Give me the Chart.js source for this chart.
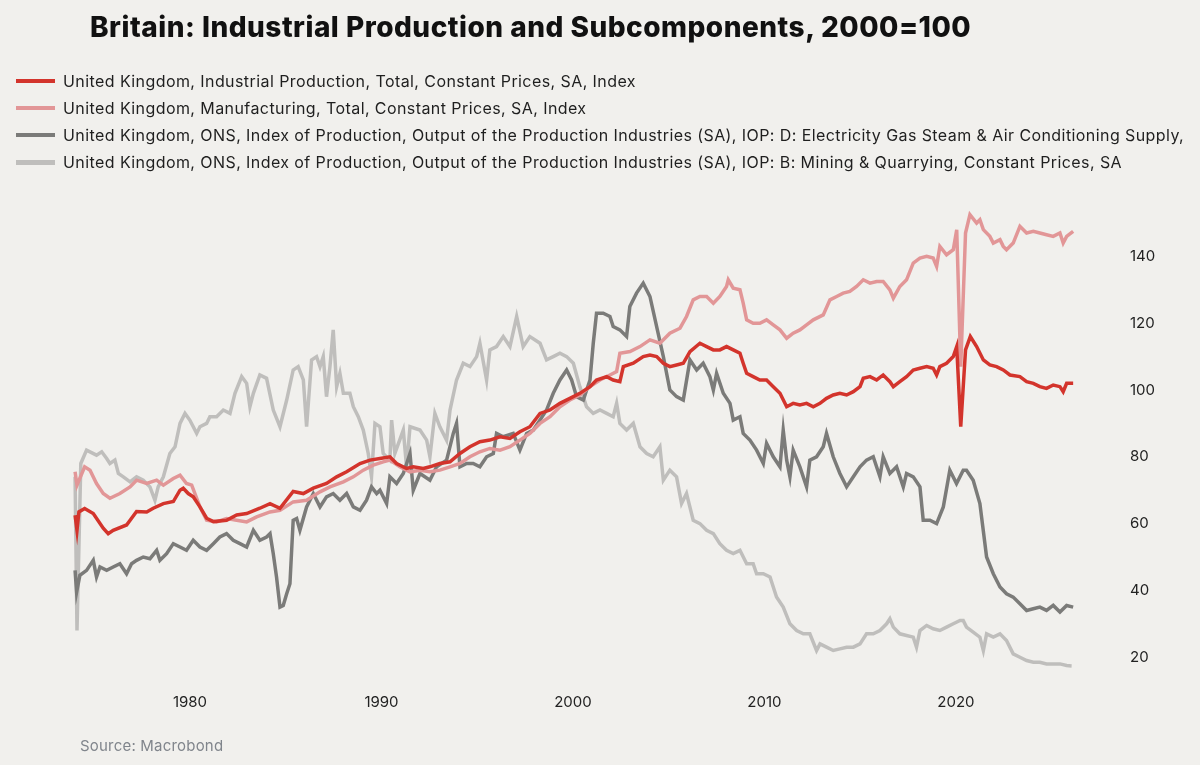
<!DOCTYPE html>
<html>
<head>
<meta charset="utf-8">
<script src="https://cdn.jsdelivr.net/npm/chart.js@4.4.1/dist/chart.umd.min.js"></script>
<style>
  html, body { margin: 0; padding: 0; background: #f1f0ed; }
  body { width: 1200px; height: 765px; position: relative; overflow: hidden; font-family: Inter, "Noto Sans", sans-serif; color: #1f1f1f; }
  #chart { position: absolute; left: 0; top: 0; }
  h1 { position: absolute; left: 90px; top: 13px; margin: 0; font-size: 28px; line-height: 28px; font-weight: 800; letter-spacing: 0.5px; color: #111; white-space: nowrap; }
  #legend { position: absolute; left: 16px; top: 67.5px; }
  .row { display: flex; align-items: center; height: 27.1px; font-size: 16px; letter-spacing: 0.42px; white-space: nowrap; }
  .sw { width: 39px; height: 4.5px; margin-right: 8px; }
  #source { position: absolute; left: 80px; top: 735.5px; font-size: 15px; letter-spacing: 0.2px; color: #80858c; }
</style>
</head>
<body>
<canvas id="chart" width="1200" height="765"></canvas>
<h1>Britain: Industrial Production and Subcomponents, 2000=100</h1>
<div id="legend"></div>
<div id="source">Source: Macrobond</div>
<script>
// series: [year, index value]
const totalIP = [
  [1974.0,62.5],[1974.1,58],[1974.2,63.5],[1974.5,64.5],[1974.95,63],[1975.47,58.6],[1975.73,57],[1975.99,58],[1976.69,59.6],[1977.21,63.6],[1977.74,63.5],[1978.08,64.6],[1978.61,66],[1979.13,66.6],[1979.48,70],[1979.65,70.6],[1979.91,69],[1980.17,68],[1980.52,65],[1980.87,61.6],[1981.22,60.6],[1981.91,61],[1982.44,62.6],[1982.96,63],[1983.65,64.6],[1984.18,66],[1984.7,64.6],[1985.39,69.6],[1985.92,69],[1986.44,70.6],[1987.13,72],[1987.66,74],[1988.18,75.5],[1988.88,78],[1989.4,79],[1989.92,79.5],
  [1990.44,80],[1990.79,78],[1991.31,76.5],[1991.66,77],[1992.18,76.5],[1992.53,77],[1993.05,78],[1993.58,78.5],[1994.1,81],[1994.62,83],[1995.14,84.5],[1995.66,85],[1996.19,86],[1996.71,85.5],[1997.23,87.5],[1997.75,89],[1998.28,93],[1998.8,94],[1999.32,96],[1999.84,97.5],[2000.36,99],[2000.89,101],[2001.23,103],[2001.76,104],[2002.1,103],[2002.45,102.5],[2002.63,107],[2003.15,108],[2003.67,110],[2004.02,110.5],[2004.37,110],[2004.72,108],[2005.06,107],[2005.41,107.5],[2005.76,108],[2006.11,111.5],[2006.63,114],[2006.98,113],[2007.33,112],[2007.67,112],[2008.02,113],[2008.37,112],[2008.72,111],[2008.89,108],[2009.07,105],[2009.41,104],[2009.76,103],
  [2010.11,103],[2010.46,101],[2010.81,99],[2011.16,95],[2011.5,96],[2011.85,95.5],[2012.2,96],[2012.55,95],[2012.9,96],[2013.24,97.5],[2013.59,98.5],[2013.94,99],[2014.29,98.5],[2014.64,99.5],[2014.99,101],[2015.16,103.5],[2015.51,104],[2015.86,103],[2016.2,104.5],[2016.55,102.5],[2016.73,101],[2017.07,102.5],[2017.42,104],[2017.77,106],[2018.12,106.5],[2018.47,107],[2018.81,106.5],[2018.99,104.5],[2019.16,107],[2019.51,108],[2019.86,110],[2020.04,113],[2020.25,89],[2020.5,112],[2020.75,116],[2021.08,113],[2021.43,109],[2021.77,107.5],[2022.12,107],[2022.47,106],[2022.82,104.5],[2023.34,104],[2023.69,102.5],[2024.04,102],[2024.38,101],[2024.73,100.5],[2025.08,101.5],[2025.43,101],[2025.6,99.5],[2025.78,102],[2026.12,102]
];
const manufacturing = [
  [1974.0,75.5],[1974.1,71.5],[1974.5,77],[1974.78,76],[1975.12,72],[1975.47,69],[1975.82,67.6],[1976.34,69],[1976.87,71],[1977.21,73],[1977.74,72],[1978.26,73],[1978.61,71.5],[1979.13,73.5],[1979.48,74.5],[1979.82,72],[1980.09,71.5],[1980.52,65],[1980.87,61],[1981.39,60.5],[1981.91,61.5],[1982.44,61],[1982.96,60.5],[1983.48,62],[1984.18,63.5],[1984.7,64],[1985.39,66.5],[1986.09,67],[1986.79,69.5],[1987.31,71],[1988.01,72.5],[1988.53,74],[1989.05,76],[1989.57,77.5],[1990.09,78.5],
  [1990.44,79],[1990.96,77],[1991.49,75.5],[1992.01,76],[1992.53,75.5],[1993.05,76],[1993.58,77],[1994.1,78],[1994.62,80],[1995.14,81.5],[1995.66,82.5],[1996.19,82],[1996.71,83],[1997.23,85],[1997.75,87],[1998.28,90],[1998.8,92],[1999.32,95],[1999.84,97],[2000.36,98.5],[2000.89,101],[2001.41,103],[2001.93,104.5],[2002.28,105.5],[2002.45,111],[2002.98,111.5],[2003.5,113],[2004.02,115],[2004.54,114],[2005.06,117],[2005.59,118.5],[2005.93,122],[2006.28,127],[2006.63,128],[2006.98,128],[2007.33,126],[2007.67,128],[2008.02,131],[2008.11,133],[2008.37,130.5],[2008.72,130],[2008.89,126],[2009.07,121],[2009.41,120],[2009.76,120],
  [2010.11,121],[2010.46,119.5],[2010.81,118],[2011.16,115.5],[2011.5,117],[2011.85,118],[2012.2,119.5],[2012.55,121],[2013.07,122.5],[2013.42,127],[2013.77,128],[2014.11,129],[2014.46,129.5],[2014.81,131],[2015.16,133],[2015.51,132],[2015.86,132.5],[2016.2,132.5],[2016.55,130],[2016.73,127.5],[2017.07,131],[2017.42,133],[2017.77,138],[2018.12,139.5],[2018.47,140],[2018.81,139.5],[2018.99,137],[2019.16,143],[2019.51,140.5],[2019.86,142],[2020.04,148],[2020.25,107],[2020.5,147],[2020.73,152.5],[2021.08,150],[2021.25,151],[2021.43,148],[2021.77,146],[2021.95,144],[2022.3,145],[2022.47,143],[2022.64,142],[2022.99,144],[2023.34,149],[2023.69,147],[2024.04,147.5],[2024.38,147],[2024.73,146.5],[2025.08,146],[2025.43,147],[2025.6,144],[2025.78,146],[2026.12,147.5]
];
const electricity = [
  [1974.0,46],[1974.08,39.5],[1974.25,44.5],[1974.6,46],[1974.95,49],[1975.12,44],[1975.3,47],[1975.65,46],[1975.99,47],[1976.34,48],[1976.69,45],[1976.95,48],[1977.21,49],[1977.56,50],[1977.91,49.5],[1978.26,52],[1978.43,49],[1978.78,51],[1979.13,54],[1979.48,53],[1979.82,52],[1980.17,55],[1980.52,53],[1980.87,52],[1981.22,54],[1981.56,56],[1981.91,57],[1982.26,55],[1982.61,54],[1982.96,53],[1983.31,58],[1983.65,55],[1984.0,56],[1984.18,57],[1984.35,51],[1984.52,44],[1984.7,35],[1984.87,35.5],[1985.05,39],[1985.22,42],[1985.39,61],[1985.57,61.5],[1985.74,58],[1986.09,65],[1986.44,69],[1986.79,65],[1987.13,68],[1987.48,69],[1987.83,67],[1988.18,69],[1988.53,65],[1988.88,64],[1989.22,67],[1989.48,71],[1989.75,69],[1989.92,70],
  [1990.27,66],[1990.44,74],[1990.79,72],[1991.14,75],[1991.49,81],[1991.66,70],[1992.01,75],[1992.53,73],[1992.88,77],[1993.4,79],[1993.75,87],[1993.92,90],[1994.1,77],[1994.45,78],[1994.79,78],[1995.14,77],[1995.49,80],[1995.84,81],[1996.01,87],[1996.36,86],[1996.88,87],[1997.23,82],[1997.58,87],[1997.93,88],[1998.28,91],[1998.62,94],[1998.97,99],[1999.32,103],[1999.67,106],[1999.93,103],[2000.19,98],[2000.54,97],[2000.89,103],[2001.06,114],[2001.23,123],[2001.58,123],[2001.93,122],[2002.1,119],[2002.45,118],[2002.8,116],[2002.97,125],[2003.32,129],[2003.67,132],[2004.02,128],[2004.37,119],[2004.72,110],[2005.06,100],[2005.41,98],[2005.76,97],[2006.11,109],[2006.46,106],[2006.8,108],[2007.15,104],[2007.33,100],[2007.5,105],[2007.85,99],[2008.2,96],[2008.37,91],[2008.72,92],[2008.89,87],[2009.24,85],[2009.59,82],[2009.94,78],
  [2010.11,84],[2010.46,80],[2010.81,77],[2010.98,88],[2011.16,79],[2011.33,74],[2011.5,82],[2011.85,77],[2012.2,71],[2012.37,79],[2012.72,80],[2013.07,83],[2013.24,87],[2013.59,80],[2013.94,75],[2014.29,71],[2014.64,74],[2014.99,77],[2015.33,79],[2015.68,80],[2016.03,74],[2016.2,80],[2016.55,75],[2016.9,77],[2017.25,71],[2017.42,75],[2017.77,74],[2018.12,71],[2018.29,61],[2018.64,61],[2018.99,60],[2019.34,65],[2019.68,76],[2020.03,72],[2020.38,76],[2020.55,76],[2020.9,73],[2021.25,66],[2021.6,50],[2021.95,45],[2022.3,41],[2022.64,39],[2022.99,38],[2023.34,36],[2023.69,34],[2024.04,34.5],[2024.38,35],[2024.73,34],[2025.08,35.5],[2025.43,33.5],[2025.78,35.5],[2026.12,35]
];
const mining = [
  [1974.0,74],[1974.1,28],[1974.3,78],[1974.6,82],[1975.12,80.5],[1975.39,81.5],[1975.65,79.5],[1975.82,78],[1976.08,79],[1976.26,75],[1976.52,74],[1976.87,72.5],[1977.21,74],[1977.56,73],[1977.91,71],[1978.17,67],[1978.34,71],[1978.61,74],[1978.95,81],[1979.22,83],[1979.48,90],[1979.74,93],[1979.99,91],[1980.35,87],[1980.52,89],[1980.87,90],[1981.04,92],[1981.39,92],[1981.74,94],[1982.09,93],[1982.35,99],[1982.7,104],[1982.96,102],[1983.13,95],[1983.31,99],[1983.65,104.5],[1984.0,103.5],[1984.35,94],[1984.7,89],[1985.05,97],[1985.39,106],[1985.65,107],[1985.92,103],[1986.09,89],[1986.35,109],[1986.61,110],[1986.79,107],[1986.96,110],[1987.13,98],[1987.31,107],[1987.48,118],[1987.66,101],[1987.83,105],[1988.01,99],[1988.35,99],[1988.53,95],[1988.79,92],[1989.05,88],[1989.31,81],[1989.48,74],[1989.66,90],[1989.92,89],
  [1990.09,81],[1990.44,79],[1990.53,91],[1990.7,81],[1991.14,88],[1991.31,77],[1991.49,89],[1992.01,88],[1992.36,85],[1992.53,80],[1992.79,93],[1993.05,89],[1993.4,85],[1993.58,94],[1993.92,103],[1994.27,108],[1994.62,107],[1994.97,110],[1995.14,114],[1995.49,103],[1995.66,112],[1996.01,113],[1996.36,116],[1996.71,113],[1997.06,122],[1997.4,113],[1997.75,116],[1998.28,114],[1998.62,109],[1998.97,110],[1999.32,111],[1999.67,110],[2000.02,108],[2000.36,101],[2000.71,95],[2001.06,93],[2001.41,94],[2001.76,93],[2002.1,92],[2002.28,96],[2002.45,90],[2002.8,88],[2003.15,90],[2003.5,83],[2003.85,81],[2004.19,80],[2004.54,83],[2004.72,73],[2005.06,76],[2005.41,74],[2005.67,66],[2005.93,69],[2006.28,61],[2006.63,60],[2006.98,58],[2007.33,57],[2007.67,54],[2008.02,52],[2008.37,51],[2008.72,52],[2009.07,48],[2009.41,48],[2009.59,45],[2009.94,45],
  [2010.29,44],[2010.63,38],[2010.98,35],[2011.33,30],[2011.68,28],[2012.03,27],[2012.37,27],[2012.72,22],[2012.9,24],[2013.24,23],[2013.59,22],[2013.94,22.5],[2014.29,23],[2014.64,23],[2014.99,24],[2015.33,27],[2015.68,27],[2016.03,28],[2016.38,30],[2016.55,31.5],[2016.73,29],[2017.07,27],[2017.42,26.5],[2017.77,26],[2017.94,23],[2018.12,28],[2018.47,29.5],[2018.81,28.5],[2019.16,28],[2019.51,29],[2019.86,30],[2020.21,31],[2020.38,31],[2020.55,29],[2020.9,27.5],[2021.25,26],[2021.43,22],[2021.6,27],[2021.95,26],[2022.3,27],[2022.64,25],[2022.99,21],[2023.34,20],[2023.69,19],[2024.04,18.5],[2024.38,18.5],[2024.73,18],[2025.08,18],[2025.43,18],[2025.78,17.5],[2026.04,17.4]
];

const seriesNames = [
  'United Kingdom, Industrial Production, Total, Constant Prices, SA, Index',
  'United Kingdom, Manufacturing, Total, Constant Prices, SA, Index',
  'United Kingdom, ONS, Index of Production, Output of the Production Industries (SA), IOP: D: Electricity Gas Steam & Air Conditioning Supply,',
  'United Kingdom, ONS, Index of Production, Output of the Production Industries (SA), IOP: B: Mining & Quarrying, Constant Prices, SA'
];
const seriesColors = ['#d3342c', '#e29697', '#7b7b79', '#bfbebc'];
const xTicks = [1980, 1990, 2000, 2010, 2020];
const yTicks = [20, 40, 60, 80, 100, 120, 140];

// html legend, one row per series
const legend = document.getElementById('legend');
seriesNames.forEach((name, i) => {
  const row = document.createElement('div');
  row.className = 'row';
  row.innerHTML = '<span class="sw" style="background:' + seriesColors[i] + '"></span><span>' + name + '</span>';
  legend.appendChild(row);
});

const toPoints = arr => arr.map(([x, y]) => ({ x, y }));
const allSeries = [totalIP, manufacturing, electricity, mining];

new Chart(document.getElementById('chart'), {
  type: 'line',
  data: {
    datasets: allSeries.map((s, i) => ({
      label: seriesNames[i],
      data: toPoints(s),
      borderColor: seriesColors[i],
      borderWidth: 3.5,
      pointRadius: 0,
      tension: 0,
      fill: false
    }))
  },
  options: {
    responsive: false,
    animation: false,
    layout: { padding: { left: 65.5, top: 206.3, right: 0, bottom: 0 } },
    plugins: { legend: { display: false }, tooltip: { enabled: false } },
    scales: {
      x: {
        type: 'linear',
        position: 'bottom',
        min: 1973.5,
        max: 2027,
        grid: { display: false, drawTicks: false },
        border: { display: false },
        afterBuildTicks: scale => { scale.ticks = xTicks.map(v => ({ value: v })); },
        afterFit: scale => { scale.height = 91.1; },
        ticks: {
          padding: 20,
          color: '#222',
          font: { family: 'Inter', size: 15 },
          maxRotation: 0,
          callback: v => String(v)
        }
      },
      y: {
        position: 'right',
        min: 15,
        max: 155,
        grid: { display: false, drawTicks: false },
        border: { display: false },
        afterBuildTicks: scale => { scale.ticks = yTicks.map(v => ({ value: v })); },
        afterFit: scale => { scale.width = 110; },
        ticks: {
          padding: 40,
          color: '#222',
          font: { family: 'Inter', size: 15 },
          callback: v => String(v)
        }
      }
    }
  }
});
</script>
</body>
</html>
